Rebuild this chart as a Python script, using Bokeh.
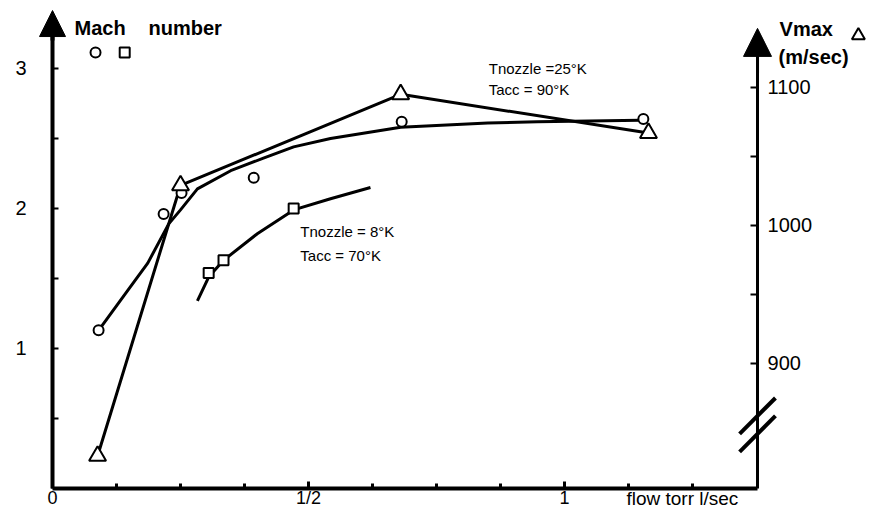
from bokeh.plotting import figure
from bokeh.models import Range1d, LinearAxis, FixedTicker, Label, Arrow, NormalHead
from bokeh.embed import file_html
from bokeh.resources import INLINE

# ---------------- data ----------------
# Mach number, circles (Tnozzle = 25 K, Tacc = 90 K)
circle_flow = [0.090, 0.217, 0.252, 0.393, 0.682, 1.154]
circle_mach = [1.13, 1.96, 2.11, 2.22, 2.62, 2.64]
# Mach number, squares (Tnozzle = 8 K, Tacc = 70 K)
square_flow = [0.305, 0.334, 0.471]
square_mach = [1.54, 1.63, 2.00]
# Vmax (m/sec), triangles
tri_flow = [0.088, 0.250, 0.680, 1.164]
tri_vmax = [833, 1029, 1095, 1067]
# hand-drawn fit through circles
fit25_flow = [0.090, 0.152, 0.186, 0.227, 0.250, 0.283, 0.348, 0.412, 0.471, 0.543, 0.680, 0.850, 0.947, 1.148]
fit25_mach = [1.13, 1.44, 1.61, 1.89, 1.99, 2.14, 2.27, 2.36, 2.44, 2.50, 2.58, 2.61, 2.62, 2.63]
# hand-drawn fit through squares
fit8_flow = [0.283, 0.305, 0.334, 0.400, 0.471, 0.543, 0.621]
fit8_mach = [1.34, 1.51, 1.63, 1.82, 1.99, 2.07, 2.15]

x_ticks = [0, 0.5, 1]
x_minor = [0.125, 0.25, 0.375, 0.625, 0.75, 0.875, 1.125, 1.25]
x_labels = {0: "0", 0.5: "1/2", 1: "1"}
mach_ticks = [1, 2, 3]
mach_minor = [0.5, 1.5, 2.5]
v_ticks = [900, 1000, 1100]
v_minor = [950, 1050]

X_START, X_END = -0.1016, 1.5957     # flow axis shown
X_RIGHT = 1.377                      # position of the Vmax axis
M_START, M_END = -0.15, 3.4857
V_START, V_END = 794.2, 1163.0
V_AXIS_LOW = 809.4
V_BREAK = 855.5

FONT = "Liberation Sans"

p = figure(width=869, height=509, x_range=Range1d(X_START, X_END), y_range=Range1d(M_START, M_END),
           output_backend="svg", toolbar_location=None,
           min_border_left=0, min_border_right=0, min_border_top=0, min_border_bottom=0)
p.outline_line_color = None
p.grid.visible = False
p.background_fill_color = "white"
p.border_fill_color = "white"

# ---- axes ----
xa = p.xaxis[0]
xa.fixed_location = 0
xa.bounds = (0, X_RIGHT)
xa.ticker = FixedTicker(ticks=x_ticks, minor_ticks=x_minor)
xa.major_label_overrides = x_labels
xa.axis_line_width = 4
xa.major_tick_in = 7
xa.major_tick_out = 0
xa.minor_tick_in = 5
xa.minor_tick_out = 0
xa.major_tick_line_width = 3
xa.minor_tick_line_width = 3
xa.major_label_standoff = 0
xa.major_label_text_font = FONT
xa.major_label_text_font_size = "18px"
xa.major_label_text_color = "black"

ya = p.yaxis[0]
ya.fixed_location = 0
ya.bounds = (0, 3.3)
ya.ticker = FixedTicker(ticks=mach_ticks, minor_ticks=mach_minor)
ya.axis_line_width = 4
ya.major_tick_in = 6
ya.major_tick_out = 0
ya.minor_tick_in = 6
ya.minor_tick_out = 0
ya.major_tick_line_width = 2
ya.minor_tick_line_width = 2
ya.major_label_standoff = 26
ya.major_label_text_font = FONT
ya.major_label_text_font_size = "20px"
ya.major_label_text_color = "black"

p.extra_y_ranges = {"v": Range1d(V_START, V_END)}
ra = LinearAxis(y_range_name="v", fixed_location=X_RIGHT,
                ticker=FixedTicker(ticks=v_ticks, minor_ticks=v_minor),
                bounds=(V_AXIS_LOW, 1130))
ra.axis_line_width = 3
ra.major_tick_in = 7
ra.major_tick_out = 0
ra.minor_tick_in = 7
ra.minor_tick_out = 0
ra.major_tick_line_width = 2
ra.minor_tick_line_width = 2
ra.major_label_standoff = 10
ra.major_label_text_font = FONT
ra.major_label_text_font_size = "20px"
ra.major_label_text_color = "black"
p.add_layout(ra, "right")

# arrow heads on the vertical axes
p.add_layout(Arrow(end=NormalHead(size=26, fill_color="black", line_color="black"),
                   x_start=0, y_start=3.2, x_end=0, y_end=3.414, line_width=4))
p.add_layout(Arrow(end=NormalHead(size=28, fill_color="black", line_color="black"),
                   x_start=X_RIGHT, y_start=1110, x_end=X_RIGHT, y_end=1142.8,
                   y_range_name="v", line_width=3))
# axis break marks
for dv in (6.5, -6.5):
    p.add_layout(Arrow(start=None, end=None, x_start=X_RIGHT - 0.035, x_end=X_RIGHT + 0.035,
                       y_start=V_BREAK + dv - 13, y_end=V_BREAK + dv + 13,
                       y_range_name="v", line_width=4))

# ---- curves ----
p.line(fit25_flow, fit25_mach, line_color="black", line_width=3)
p.line([fit25_flow[-1], circle_flow[-1]], [fit25_mach[-1], circle_mach[-1]], line_color="black", line_width=3)
p.line(fit8_flow, fit8_mach, line_color="black", line_width=3)
p.line(tri_flow, tri_vmax, y_range_name="v", line_color="black", line_width=3)

# ---- markers ----
p.scatter(circle_flow, circle_mach, marker="circle", size=10, fill_color="white",
          line_color="black", line_width=2)
p.scatter(square_flow, square_mach, marker="square", size=10, fill_color="white",
          line_color="black", line_width=2)
p.scatter(tri_flow, tri_vmax, y_range_name="v", marker="triangle", size=17,
          fill_color="white", line_color="black", line_width=2)
# legend symbols next to "Mach number"
p.scatter([0.084], [3.114], marker="circle", size=10, fill_color="white", line_color="black", line_width=2)
p.scatter([0.141], [3.114], marker="square", size=10, fill_color="white", line_color="black", line_width=2)
# legend symbol next to "Vmax"
p.scatter([1.574], [3.236], marker="triangle", size=13, fill_color="white", line_color="black", line_width=2)

# ---- texts ----
def lab(x, y, t, size="20px", style="bold", align="left"):
    p.add_layout(Label(x=x, y=y, text=t, text_font=FONT, text_font_size=size,
                       text_font_style=style, text_align=align, text_baseline="middle",
                       text_color="black"))

lab(0.043, 3.286, "Mach")
lab(0.1875, 3.286, "number")
lab(1.42, 3.282, "Vmax")
lab(1.418, 3.079, "(m/sec)")
lab(0.852, 3.0, "Tnozzle =25°K", size="15px", style="normal")
lab(0.852, 2.85, "Tacc = 90°K", size="15px", style="normal")
lab(0.484, 1.836, "Tnozzle = 8°K", size="15px", style="normal")
lab(0.484, 1.664, "Tacc = 70°K", size="15px", style="normal")
lab(1.121, -0.071, "flow torr l/sec", size="19px", style="normal")

open("out.html", "w").write(file_html(p, INLINE))
